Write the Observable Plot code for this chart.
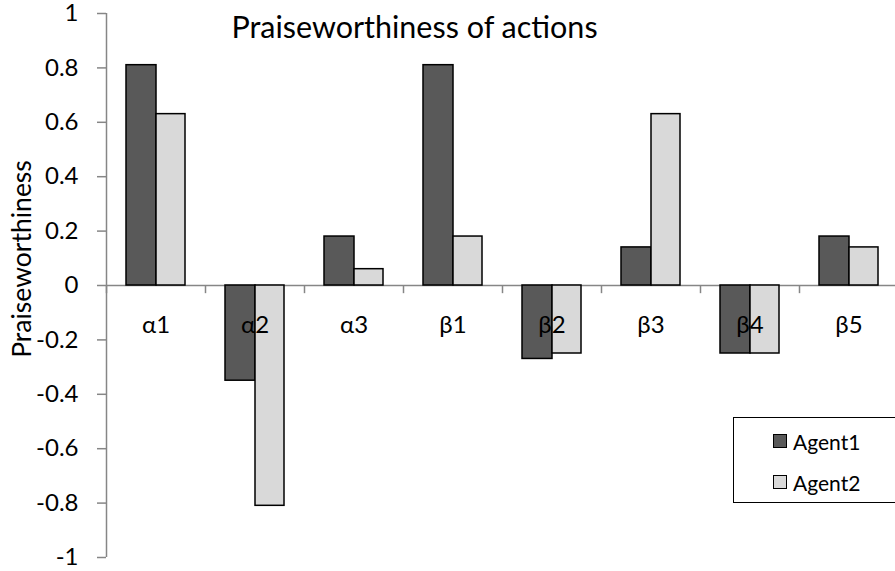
<!DOCTYPE html>
<html><head><meta charset="utf-8">
<script src="https://cdn.jsdelivr.net/npm/d3@7"></script>
<script src="https://cdn.jsdelivr.net/npm/@observablehq/plot@0.6"></script>
<style>
body{margin:0;background:#fff;font-family:Lato,"Noto Sans",sans-serif;}
#wrap{position:relative;width:895px;height:571px;overflow:hidden;}
#title{position:absolute;left:0;width:829px;top:8px;text-align:center;font-size:30.5px;color:#000;white-space:nowrap;}
#ylabel{position:absolute;left:21px;top:259px;transform:translate(-50%,-50%) rotate(-90deg);font-size:26.5px;white-space:nowrap;color:#000;}
#legend{position:absolute;left:733px;top:417px;width:170px;height:86px;border:1.5px solid #000;box-sizing:border-box;}
.item{position:absolute;left:39px;height:20px;display:flex;align-items:center;font-size:21px;}
.sw{width:12px;height:12px;border:1.3px solid #000;margin-right:6px;}
</style></head><body><div id="wrap"></div>
<script>
const categories = ["α1","α2","α3","β1","β2","β3","β4","β5"];
const agent1 = [0.81,-0.35,0.18,0.81,-0.27,0.14,-0.25,0.18];
const agent2 = [0.63,-0.81,0.06,0.18,-0.25,0.63,-0.25,0.14];
const seriesNames = ["Agent1","Agent2"];
const seriesColors = ["#595959","#d9d9d9"];
const yTicks = [-1,-0.8,-0.6,-0.4,-0.2,0,0.2,0.4,0.6,0.8,1];
const titleText = "Praiseworthiness of actions";
const yLabelText = "Praiseworthiness";

const axisColor = "#868686";
const chart = Plot.plot({
  width: 895, height: 571,
  marginLeft: 106, marginRight: 0, marginTop: 13, marginBottom: 14,
  style: {fontFamily: "Lato, 'Noto Sans', sans-serif", fontSize: "24px", color: "#000", background: "#fff"},
  x: {type: "band", domain: categories, range: [106, 898], padding: 0, axis: null},
  y: {domain: [-1, 1], range: [557, 13], axis: null},
  marks: [
    Plot.axisY({ticks: yTicks, tickSize: 9, tickPadding: 19, stroke: axisColor, strokeWidth: 1.5,
      tickFormat: d => String(+(+d).toFixed(1)), label: null, fontSize: 24}),
    Plot.ruleX([categories[0]], {x: d => d, dx: -49.5, y1: -1, y2: 1, stroke: axisColor, strokeWidth: 1.5}),
    Plot.ruleX(categories, {x: d => d, dx: -49.5, y1: 0, y2: -0.03, stroke: axisColor, strokeWidth: 1.5}),
    Plot.ruleY([0], {stroke: axisColor, strokeWidth: 1.5}),
    Plot.barY(categories, {x: d => d, y: (d, i) => agent1[i], fill: seriesColors[0], stroke: "#000", strokeWidth: 1.5, insetLeft: 20, insetRight: 49}),
    Plot.barY(categories, {x: d => d, y: (d, i) => agent2[i], fill: seriesColors[1], stroke: "#000", strokeWidth: 1.5, insetLeft: 50, insetRight: 20}),
    Plot.text(categories, {x: d => d, y: () => 0, dy: 40, text: d => d, fontSize: 24, fill: "#000"})
  ]
});
const wrap = document.getElementById("wrap");
wrap.appendChild(chart);
const t = document.createElement("div"); t.id = "title"; t.textContent = titleText; wrap.appendChild(t);
const yl = document.createElement("div"); yl.id = "ylabel"; yl.textContent = yLabelText; wrap.appendChild(yl);
const lg = document.createElement("div"); lg.id = "legend";
seriesNames.forEach((n, i) => {
  const it = document.createElement("div"); it.className = "item"; it.style.top = (13 + i * 41) + "px";
  const sw = document.createElement("div"); sw.className = "sw"; sw.style.background = seriesColors[i];
  const tx = document.createElement("span"); tx.textContent = n;
  it.appendChild(sw); it.appendChild(tx); lg.appendChild(it);
});
wrap.appendChild(lg);
</script></body></html>
